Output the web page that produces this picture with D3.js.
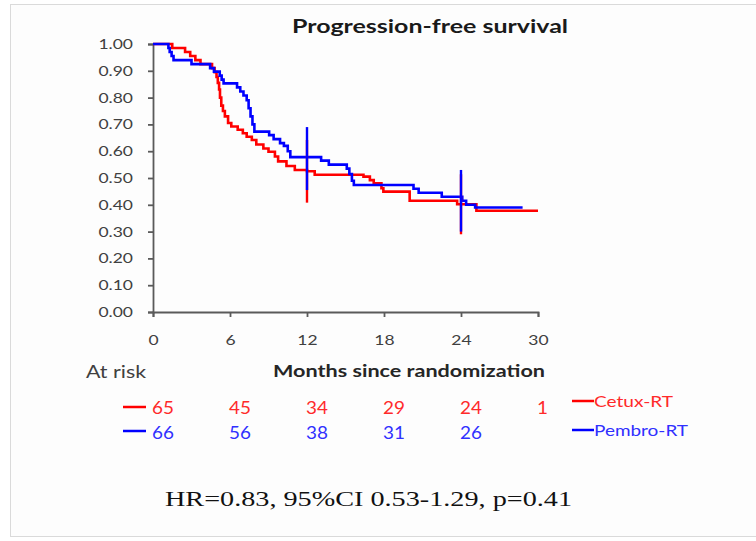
<!DOCTYPE html>
<html><head><meta charset="utf-8">
<script src="https://cdn.jsdelivr.net/npm/d3@7"></script>
<style>html,body{margin:0;padding:0;background:#fff;overflow:hidden;}</style>
</head><body>
<svg id="c" width="756" height="541"></svg>
<script>
// ---- data ----
const xTicks = [0, 6, 12, 18, 24, 30];
const yTicks = [0, 0.1, 0.2, 0.3, 0.4, 0.5, 0.6, 0.7, 0.8, 0.9, 1.0];
const seriesNames = ["Cetux-RT", "Pembro-RT"];

const cetuxTimes = [0, 1.5, 2.5, 2.9, 3.3, 3.7, 4.6, 4.8, 4.95, 5.05, 5.15, 5.22, 5.32, 5.45, 5.6, 5.85, 6.1, 6.6, 7.0, 7.3, 7.7, 8.05, 8.6, 9.0, 9.5, 9.75, 10.4, 11.05, 12.0, 12.6, 16.4, 16.9, 17.2, 17.8, 17.95, 20.0, 23.7, 25.2, 30];
const cetuxSurv  = [1, 0.985, 0.97, 0.955, 0.94, 0.925, 0.91, 0.895, 0.877, 0.855, 0.83, 0.80, 0.77, 0.75, 0.73, 0.705, 0.692, 0.68, 0.667, 0.654, 0.642, 0.625, 0.61, 0.598, 0.58, 0.562, 0.545, 0.53, 0.525, 0.512, 0.505, 0.492, 0.48, 0.462, 0.449, 0.415, 0.402, 0.378, 0.378];

const pembroTimes = [0, 1.2, 1.3, 1.45, 1.6, 3.0, 4.45, 4.75, 5.2, 5.35, 5.5, 6.55, 6.8, 7.05, 7.3, 7.45, 7.6, 7.75, 7.9, 9.05, 9.4, 9.9, 10.2, 10.5, 10.7, 13.1, 13.7, 15.1, 15.3, 15.5, 15.65, 20.3, 20.7, 22.5, 24.1, 24.4, 25.1, 28.8];
const pembroSurv  = [1, 0.985, 0.97, 0.955, 0.94, 0.925, 0.91, 0.897, 0.882, 0.867, 0.853, 0.838, 0.823, 0.808, 0.79, 0.76, 0.73, 0.70, 0.673, 0.66, 0.645, 0.63, 0.62, 0.60, 0.578, 0.565, 0.55, 0.535, 0.515, 0.49, 0.474, 0.46, 0.445, 0.43, 0.415, 0.40, 0.39, 0.39];

const ciTimes    = [12, 24];
const cetuxLow   = [0.408, 0.29];
const cetuxHigh  = [0.642, 0.514];
const pembroLow  = [0.455, 0.30];
const pembroHigh = [0.69, 0.53];

const cetuxAtRisk  = [65, 45, 34, 29, 24, 1];
const pembroAtRisk = [66, 56, 38, 31, 26];

const titleText = "Progression-free survival";
const xLabel = "Months since randomization";
const atRiskLabel = "At risk";
const statsText = "HR=0.83, 95%CI 0.53-1.29, p=0.41";

// ---- drawing ----
const RED = "#ff0000", BLUE = "#0000ff";
const SANS = "Lato, 'Open Sans', sans-serif";
const svg = d3.select("#c");

svg.append("rect").attr("x", 10.5).attr("y", 4.5).attr("width", 800).attr("height", 532)
  .attr("fill", "#fdfdfd").attr("stroke", "#dadada").attr("stroke-width", 1);

const x = d3.scaleLinear().domain([0, 30]).range([153, 538]);
const y = d3.scaleLinear().domain([0, 1]).range([312, 44]);

function stretch(sel, sx) {
  sel.each(function () {
    const t = d3.select(this);
    const ax = +t.attr("x") || 0;
    t.attr("transform", `translate(${ax * (1 - sx)},0) scale(${sx},1)`);
  });
}
function styleAxis(g) {
  g.selectAll(".domain, .tick line").attr("stroke", "#5a5a5a").attr("stroke-width", 1.8);
  g.selectAll("text").attr("font-family", SANS).attr("font-size", 14).attr("fill", "#404040");
  stretch(g.selectAll("text"), 1.25);
}

const gx = svg.append("g").attr("transform", "translate(0,312)")
  .call(d3.axisBottom(x).tickValues(xTicks).tickSize(5).tickSizeOuter(5).tickPadding(18).tickFormat(d3.format("d")));
styleAxis(gx);
const gy = svg.append("g").attr("transform", "translate(153,0)")
  .call(d3.axisLeft(y).tickValues(yTicks).tickSize(5).tickSizeOuter(5).tickPadding(15).tickFormat(d3.format(".2f")));
styleAxis(gy);

const line = d3.line().x(d => x(d[0])).y(d => y(d[1])).curve(d3.curveStepAfter);
const cetuxPts = d3.zip(cetuxTimes, cetuxSurv);
const pembroPts = d3.zip(pembroTimes, pembroSurv);

svg.append("path").datum(cetuxPts).attr("d", line).attr("fill", "none")
  .attr("stroke", RED).attr("stroke-width", 2.6);
svg.append("path").datum(pembroPts).attr("d", line).attr("fill", "none")
  .attr("stroke", BLUE).attr("stroke-width", 2.6);

// CI bars
svg.selectAll(".ciR").data(ciTimes).join("line").attr("class", "ciR")
  .attr("x1", d => x(d)).attr("x2", d => x(d))
  .attr("y1", (d, i) => y(cetuxHigh[i])).attr("y2", (d, i) => y(cetuxLow[i]))
  .attr("stroke", RED).attr("stroke-width", 2.4);
svg.selectAll(".ciB").data(ciTimes).join("line").attr("class", "ciB")
  .attr("x1", d => x(d)).attr("x2", d => x(d))
  .attr("y1", (d, i) => y(pembroHigh[i])).attr("y2", (d, i) => y(pembroLow[i]))
  .attr("stroke", BLUE).attr("stroke-width", 2.4);

function label(px, py, str, o) {
  const t = svg.append("text").attr("x", px).attr("y", py).text(str)
    .attr("font-family", o.family || SANS).attr("font-size", o.size)
    .attr("font-weight", o.weight || "normal").attr("fill", o.fill || "#262626")
    .attr("text-anchor", o.anchor || "start");
  if (o.len) t.attr("textLength", o.len).attr("lengthAdjust", "spacingAndGlyphs");
  return t;
}

label(292, 33, titleText, { size: 19, weight: "bold", len: 276, fill: "#1a1a1a" });
label(86, 378, atRiskLabel, { size: 17, len: 60, fill: "#404040" });
label(273, 377, xLabel, { size: 17, weight: "bold", len: 272, fill: "#262626" });

// at-risk rows
svg.append("line").attr("x1", 123).attr("x2", 146).attr("y1", 407).attr("y2", 407).attr("stroke", RED).attr("stroke-width", 2.5);
svg.append("line").attr("x1", 123).attr("x2", 146).attr("y1", 431).attr("y2", 431).attr("stroke", BLUE).attr("stroke-width", 2.5);
cetuxAtRisk.forEach((v, i) => {
  const t = label(0, 0, v, { size: 18, fill: "#ff2a2a" });
  t.attr("transform", `translate(${x(xTicks[i]) - 1},414) scale(1.05,1)`);
});
pembroAtRisk.forEach((v, i) => {
  const t = label(0, 0, v, { size: 18, fill: "#3030ff" });
  t.attr("transform", `translate(${x(xTicks[i]) - 1},439) scale(1.05,1)`);
});

// legend
svg.append("line").attr("x1", 572).attr("x2", 594).attr("y1", 401).attr("y2", 401).attr("stroke", RED).attr("stroke-width", 2.5);
svg.append("line").attr("x1", 572).attr("x2", 594).attr("y1", 430).attr("y2", 430).attr("stroke", BLUE).attr("stroke-width", 2.5);
label(594, 407, seriesNames[0], { size: 16, len: 79, fill: "#ff2a2a" });
label(594, 436, seriesNames[1], { size: 16, len: 94, fill: "#3030ff" });

label(165, 506, statsText, { size: 22, family: "'Liberation Serif', 'Times New Roman', serif", len: 407, fill: "#111" });
</script>
</body></html>
